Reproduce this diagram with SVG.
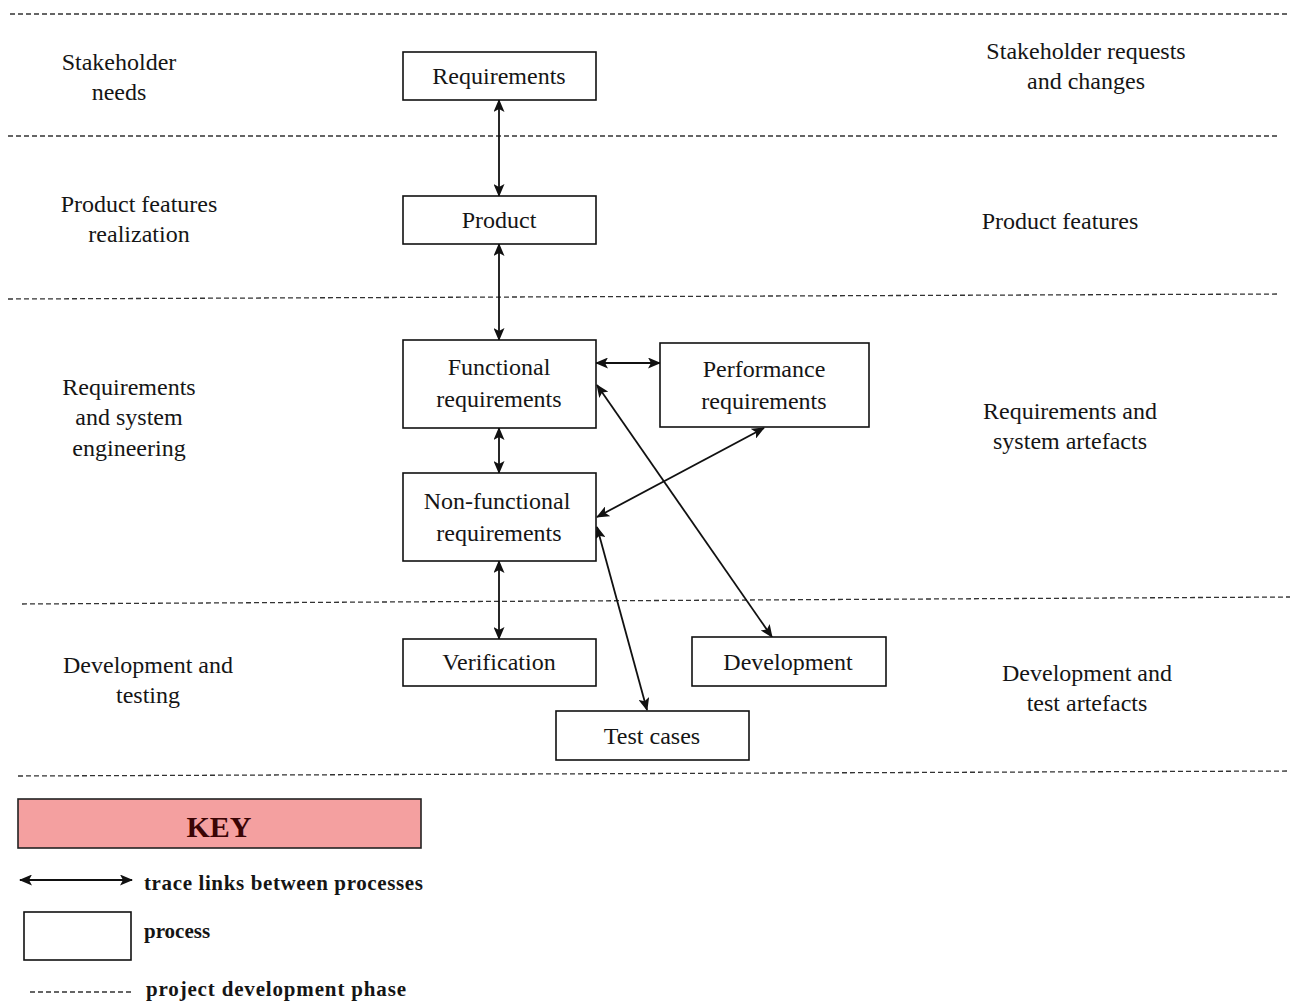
<svg xmlns="http://www.w3.org/2000/svg" width="1290" height="1002" viewBox="0 0 1290 1002">
<style>
.t{font-family:"Liberation Serif","Times New Roman",serif;font-size:24px;fill:#151515;text-anchor:middle}
.k{font-family:"Liberation Serif","Times New Roman",serif;font-size:21px;font-weight:bold;fill:#151515}
.box{fill:#fff;stroke:#111;stroke-width:1.6}
.ph{stroke:#333;stroke-width:1.3;stroke-dasharray:5 3;fill:none}
.c{stroke:#111;stroke-width:1.8;fill:none;marker-start:url(#ah);marker-end:url(#ah)}
</style>
<defs>
<marker id="ah" viewBox="0 0 13 11" refX="12" refY="5.5" markerWidth="13" markerHeight="11" markerUnits="userSpaceOnUse" orient="auto-start-reverse">
<path d="M0,0 L13,5.5 L0,11 L3,5.5 Z" fill="#111"/>
</marker>
</defs>
<rect width="1290" height="1002" fill="#fff"/>
<g id="phases">
<line class="ph" x1="10" y1="14" x2="1290" y2="14"/>
<line class="ph" x1="8" y1="136" x2="1280" y2="136"/>
<line class="ph" x1="8" y1="299" x2="1280" y2="294"/>
<line class="ph" x1="22" y1="604" x2="1290" y2="597"/>
<line class="ph" x1="18" y1="776" x2="1290" y2="771"/>
</g>
<g id="phase-labels">
<text class="t" x="119" y="70">Stakeholder</text>
<text class="t" x="119" y="100">needs</text>
<text class="t" x="139" y="212">Product features</text>
<text class="t" x="139" y="242">realization</text>
<text class="t" x="129" y="395">Requirements</text>
<text class="t" x="129" y="425">and system</text>
<text class="t" x="129" y="456">engineering</text>
<text class="t" x="148" y="673">Development and</text>
<text class="t" x="148" y="703">testing</text>
<text class="t" x="1086" y="59">Stakeholder requests</text>
<text class="t" x="1086" y="89">and changes</text>
<text class="t" x="1060" y="229">Product features</text>
<text class="t" x="1070" y="419">Requirements and</text>
<text class="t" x="1070" y="449">system artefacts</text>
<text class="t" x="1087" y="681">Development and</text>
<text class="t" x="1087" y="711">test artefacts</text>
</g>
<g id="connectors">
<line class="c" x1="499" y1="100" x2="499" y2="196"/>
<line class="c" x1="499" y1="244" x2="499" y2="340"/>
<line class="c" x1="596" y1="363" x2="660" y2="363"/>
<line class="c" x1="499" y1="428" x2="499" y2="473"/>
<line class="c" x1="499" y1="561" x2="499" y2="639"/>
<line class="c" x1="597" y1="385" x2="772" y2="637"/>
<line class="c" x1="764" y1="428" x2="597" y2="517"/>
<line class="c" x1="597" y1="527" x2="647" y2="710"/>
</g>
<g id="n-requirements"><rect class="box" x="403" y="52" width="193" height="48"/><text class="t" x="499" y="84">Requirements</text></g>
<g id="n-product"><rect class="box" x="403" y="196" width="193" height="48"/><text class="t" x="499" y="228">Product</text></g>
<g id="n-functional"><rect class="box" x="403" y="340" width="193" height="88"/><text class="t" x="499" y="375">Functional</text><text class="t" x="499" y="407">requirements</text></g>
<g id="n-performance"><rect class="box" x="660" y="343" width="209" height="84"/><text class="t" x="764" y="377">Performance</text><text class="t" x="764" y="409">requirements</text></g>
<g id="n-nonfunctional"><rect class="box" x="403" y="473" width="193" height="88"/><text class="t" x="497" y="509">Non-functional</text><text class="t" x="499" y="541">requirements</text></g>
<g id="n-verification"><rect class="box" x="403" y="639" width="193" height="47"/><text class="t" x="499" y="670">Verification</text></g>
<g id="n-development"><rect class="box" x="692" y="637" width="194" height="49"/><text class="t" x="788" y="670">Development</text></g>
<g id="n-testcases"><rect class="box" x="556" y="711" width="193" height="49"/><text class="t" x="652" y="744">Test cases</text></g>
<g id="key">
<rect x="18" y="799" width="403" height="49" fill="#f4a0a0" stroke="#222" stroke-width="1.6"/>
<text x="219" y="837" font-family="Liberation Serif,serif" font-size="30" font-weight="bold" fill="#3a0505" text-anchor="middle">KEY</text>
<line class="c" x1="20" y1="880" x2="132" y2="880"/>
<text class="k" x="144" y="890" textLength="279">trace links between processes</text>
<rect class="box" x="24" y="912" width="107" height="48"/>
<text class="k" x="144" y="938">process</text>
<line class="ph" x1="30" y1="992" x2="132" y2="992"/>
<text class="k" x="146" y="996" textLength="260">project development phase</text>
</g>
</svg>
